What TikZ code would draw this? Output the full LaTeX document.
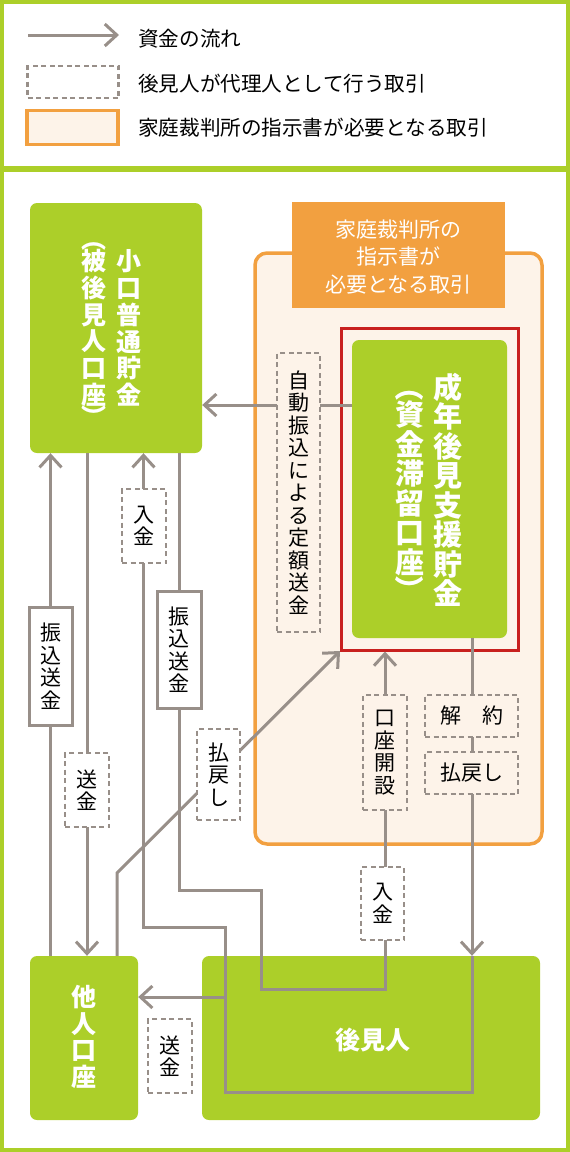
\documentclass[tikz,border=0pt]{standalone}
\usepackage{graphicx}
\usepackage{fontspec}
\setmainfont{Noto Sans CJK JP}
\usetikzlibrary{arrows.meta}
\definecolor{gr}{RGB}{172,207,41}
\definecolor{lc}{RGB}{152,143,137}
\definecolor{og}{RGB}{242,160,64}
\definecolor{cr}{RGB}{253,243,233}
\definecolor{rd}{RGB}{200,32,30}
\newcommand\vpo{\rotatebox[origin=c]{-90}{（}}
\newcommand\vpc{\rotatebox[origin=c]{-90}{）}}
\tikzset{
  arr/.style={draw=lc, line width=3pt, -{Straight Barb[length=12pt,width=22pt]}},
  ln/.style={draw=lc, line width=3pt},
  gbox/.style={fill=gr, rounded corners=7pt, inner sep=0pt},
  dbox/.style={draw=lc, line width=2.5pt, dash pattern=on 5pt off 3.5pt, fill=white, inner sep=0pt, font=\fontsize{21}{22.5}\selectfont, align=center},
  sbox/.style={draw=lc, line width=3pt, fill=white, inner sep=0pt, font=\fontsize{21}{22.5}\selectfont, align=center},
  wtxt/.style={text=white, font=\bfseries\fontsize{25}{26.7}\selectfont, align=center, inner sep=0pt},
  btxt/.style={text=white, font=\bfseries\fontsize{29}{29.5}\selectfont, align=center, inner sep=0pt},
  legtxt/.style={anchor=west, font=\fontsize{20.6}{24}\selectfont, inner sep=0pt},
}
\begin{document}
\begin{tikzpicture}[x=1pt,y=-1pt]
\useasboundingbox (0,0) rectangle (570,1152);
% frames
\draw[gr, line width=4pt] (2,2) rectangle (568,1150);
\draw[gr, line width=6pt] (0,168.5) -- (570,168.5);
% legend
\coordinate (la1) at (28,35);
\coordinate (la2) at (119,35);
\draw[arr] (la1) -- (la2);
\node[legtxt] (lt1) at (138,39) {資金の流れ};
\node[draw=lc, line width=2.5pt, dash pattern=on 5pt off 3.5pt, minimum width=91pt, minimum height=32pt] (ld) at (73,82) {};
\node[legtxt] (lt2) at (138,84) {後見人が代理人として行う取引};
\node[draw=og, fill=cr, line width=3.5pt, minimum width=91pt, minimum height=34pt] (lo) at (72.5,127.5) {};
\node[legtxt] (lt3) at (138,128) {家庭裁判所の指示書が必要となる取引};
% orange area
\draw[og, fill=cr, line width=3.5pt, rounded corners=12pt] (255,253) rectangle (542,844);
\node[fill=og, minimum width=213pt, minimum height=106pt, inner sep=0pt] (title) at (398.5,255) {};
\node[text=white, font=\fontsize{21}{27.5}\selectfont, align=center] (titletxt) at (398.5,257) {家庭裁判所の\\指示書が\\必要となる取引};
% boxes
\node[draw=rd, line width=3pt, minimum width=177pt, minimum height=322pt, inner sep=0pt] (red) at (429.5,489) {};
\node[gbox, minimum width=172pt, minimum height=250pt] (b1) at (116,328) {};
\node[wtxt] (b1t1) at (129,328) {小\\口\\普\\通\\貯\\金};
\node[wtxt] (b1t2) at (94,328) {\vpo\\[-4pt]被\\後\\見\\人\\口\\座\\[-4pt]\vpc};
\node[gbox, minimum width=155pt, minimum height=298pt] (b2) at (429.5,489) {};
\node[btxt] (b2t1) at (448,490) {成\\年\\後\\見\\支\\援\\貯\\金};
\node[btxt] (b2t2) at (410,488.5) {\vpo\\[-2pt]資\\金\\滞\\留\\口\\座\\[-2pt]\vpc};
\node[gbox, minimum width=108pt, minimum height=164pt] (b3) at (84,1038) {};
\node[wtxt] (b3t) at (84,1037) {他\\人\\口\\座};
\node[gbox, minimum width=338pt, minimum height=164pt] (b4) at (371,1038) {};
\node[text=white, font=\bfseries\fontsize{25}{30}\selectfont, inner sep=0pt] (b4t) at (373,1040) {後見人};
% x guides
\coordinate (x50) at (50.5,0);
\coordinate (x87) at (87,0);
\coordinate (x117) at (117,0);
\coordinate (x143) at (143.5,0);
\coordinate (x179) at (179,0);
\coordinate (x385) at (385,0);
\coordinate (x472) at (472,0);
\coordinate (y405) at (0,405);
% corners
\coordinate (p1) at (472,1092);
\coordinate (p2) at (225,1092);
\coordinate (p3) at (225,927);
\coordinate (p4) at (143.5,927);
\coordinate (q1) at (179,890);
\coordinate (q2) at (261,890);
\coordinate (q3) at (261,989);
\coordinate (q4) at (385,989);
\coordinate (r1) at (117,873);
\coordinate (r2) at (340,651);
\coordinate (s1) at (225,997);
% connectors
\draw[arr] (b3.north -| x50) -- (b1.south -| x50);
\draw[arr] (b1.south -| x87) -- (b3.north -| x87);
\draw[arr] (b2.south -| x472) -- (b4.north -| x472);
\draw[arr] (b4.north -| x472) -- (p1) -- (p2) -- (p3) -- (p4) -- (b1.south -| x143);
\draw[arr] (b1.south -| x179) -- (q1) -- (q2) -- (q3) -- (q4) -- (red.south -| x385);
\draw[arr] (b3.north -| x117) -- (r1) -- (r2);
\draw[arr] (s1) -- (b3.east |- s1);
\draw[arr] (b2.west |- y405) -- (b1.east |- y405);
% labels
\node[sbox, minimum width=43pt, minimum height=118pt] (l1) at (50.5,666) {振\\込\\送\\金};
\node[dbox, minimum width=44pt, minimum height=74pt] (l2) at (87,790) {送\\金};
\node[dbox, minimum width=44pt, minimum height=74pt] (l3) at (144,526) {入\\金};
\node[sbox, minimum width=44pt, minimum height=117pt] (l4) at (179,649.5) {振\\込\\送\\金};
\node[dbox, minimum width=43pt, minimum height=91pt] (l5) at (218.5,774.5) {払\\戻\\し};
\node[dbox, fill=cr, minimum width=43pt, minimum height=279pt] (l6) at (298.5,492.5) {自\\動\\振\\込\\に\\よ\\る\\定\\額\\送\\金};
\node[dbox, fill=cr, minimum width=44pt, minimum height=115pt] (l7) at (385,752.5) {口\\座\\開\\設};
\node[dbox, minimum width=43pt, minimum height=73pt] (l8) at (382.5,903.5) {入\\金};
\node[dbox, fill=cr, minimum width=93pt, minimum height=42pt] (l9) at (471.5,716) {解　約};
\node[dbox, fill=cr, minimum width=93pt, minimum height=42pt] (l10) at (471.5,773) {払戻し};
\node[dbox, minimum width=44pt, minimum height=74pt] (l11) at (170,1056) {送\\金};
\end{tikzpicture}
\end{document}
